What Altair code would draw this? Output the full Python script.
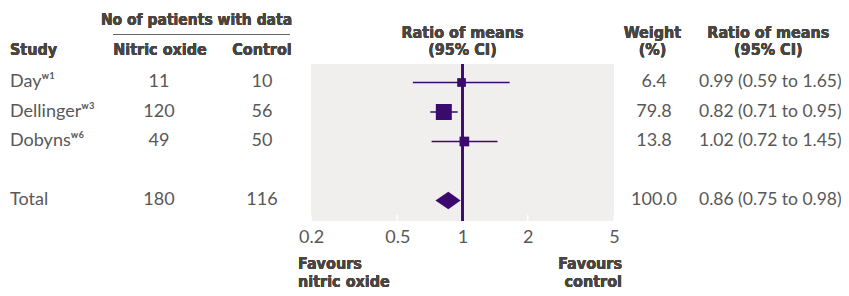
import altair as alt
import pandas as pd

# ---- data ----
studies = ["Day", "Dellinger", "Dobyns", "Total"]
refs = ["ʷ¹", "ʷ³", "ʷ⁶", ""]
rows = [0, 1, 2, 4]
n_nitric = [11, 120, 49, 180]
n_control = [10, 56, 50, 116]
weights = [6.4, 79.8, 13.8, 100.0]
ratio = [0.99, 0.82, 1.02, 0.86]
ci_low = [0.59, 0.71, 0.72, 0.75]
ci_high = [1.65, 0.95, 1.45, 0.98]
x_ticks = [0.2, 0.5, 1, 2, 5]

# ---- styles ----
PURPLE = "#3a0a6c"
PANEL = "#f0efee"
BODY = "#585858"
HEAD = "#4a4541"
BODY_FONT = "Lato"
HEAD_FONT = "'DejaVu Sans Condensed', 'Liberation Sans Narrow', sans-serif"
FS = 18
HFS = 16
W, H = 303, 157

df = pd.DataFrame({
    "study": [s + r for s, r in zip(studies, refs)],
    "row": rows,
    "nitric": n_nitric,
    "control": n_control,
    "weight": weights,
    "ratio": ratio,
    "lo": ci_low,
    "hi": ci_high,
})
df["weight_txt"] = [f"{w:.1f}" for w in weights]
df["ci_txt"] = [f"{r:.2f} ({l:.2f} to {h:.2f})" for r, l, h in zip(ratio, ci_low, ci_high)]
df["total"] = [s == "Total" for s in studies]

trials = df[~df["total"]]
tot = df[df["total"]].iloc[0]
half = 0.3
diamond = pd.DataFrame({
    "x": [tot["lo"], tot["ratio"], tot["hi"]],
    "y": [tot["row"], tot["row"] - half, tot["row"]],
    "y2": [tot["row"], tot["row"] + half, tot["row"]],
})
ticks_df = pd.DataFrame({"t": x_ticks})

xscale = alt.Scale(type="log", domain=[0.2, 5], nice=False)
yscale = alt.Scale(domain=[-0.627, 4.695], reverse=True, nice=False, zero=False)

# white tick marks inside panel bottom + axis labels
tick_layer = alt.Chart(ticks_df).mark_rule(color="white", strokeWidth=1.5).encode(
    x=alt.X("t:Q", scale=xscale, title=None,
            axis=alt.Axis(values=x_ticks, format="~g", domain=False, ticks=False,
                          tickSize=0, grid=False, labelFont=BODY_FONT, labelFontSize=FS,
                          labelColor=BODY, labelPadding=7, labelFlush=False)),
    y=alt.value(H - 6), y2=alt.value(H),
)

ref_line = alt.Chart(ticks_df).mark_rule(color=PURPLE, strokeWidth=2).encode(
    x=alt.datum(1, scale=xscale), y=alt.value(0), y2=alt.value(H)
)

ci = alt.Chart(trials).mark_rule(color=PURPLE, strokeWidth=1.5).encode(
    x=alt.X("lo:Q", scale=xscale), x2="hi:Q",
    y=alt.Y("row:Q", scale=yscale, axis=None),
)

squares = alt.Chart(trials).mark_square(color=PURPLE, opacity=1).encode(
    x=alt.X("ratio:Q", scale=xscale),
    y=alt.Y("row:Q", scale=yscale, axis=None),
    size=alt.Size("weight:Q", scale=alt.Scale(domain=[0, 100], range=[60, 305]), legend=None),
)

dia = alt.Chart(diamond).mark_area(color=PURPLE, orient="vertical", opacity=1).encode(
    x=alt.X("x:Q", scale=xscale),
    y=alt.Y("y:Q", scale=yscale, axis=None),
    y2="y2:Q",
)


def col(field, xpos, align, size=FS):
    return alt.Chart(df).mark_text(
        font=BODY_FONT, fontSize=size, color=BODY, align=align, baseline="middle"
    ).encode(
        x=alt.value(xpos),
        y=alt.Y("row:Q", scale=yscale, axis=None),
        text=f"{field}:N",
    )


cols = [
    col("study", -301, "left"),
    col("nitric", -152, "center"),
    col("control", -49, "center"),
    col("weight_txt", 343, "center"),
    col("ci_txt", 388, "left", 17.5),
]


def head(text, xpos, ypos, align="center", size=HFS):
    return alt.Chart(ticks_df).mark_text(
        text=text, font=HEAD_FONT, fontSize=size, fontWeight="bold", color=HEAD,
        align=align, baseline="alphabetic"
    ).encode(x=alt.value(xpos), y=alt.value(ypos))


heads = [
    head("No of patients with data", -114.5, -39, size=15.5),
    head("Study", -301, -9, "left"),
    head("Nitric oxide", -151, -9),
    head("Control", -49, -9),
    head("Ratio of means", 151.5, -26.5),
    head("(95% CI)", 151.5, -9),
    head("Weight", 341.5, -26.5),
    head("(%)", 341.5, -9),
    head("Ratio of means", 457.3, -26.5),
    head("(95% CI)", 457.3, -9),
    head("Favours", -13, 205, "left"),
    head("nitric oxide", -13, 223, "left"),
    head("Favours", 311, 205, "right"),
    head("control", 311, 223, "right"),
]

underline = alt.Chart(ticks_df).mark_rule(color="#6a6560", strokeWidth=1).encode(
    x=alt.value(-198), x2=alt.value(-21), y=alt.value(-29.5)
)

chart = alt.layer(
    tick_layer, ref_line, ci, squares, dia, *cols, *heads, underline
).properties(
    width=W, height=H,
    autosize=alt.AutoSizeParams(type="none"),
    padding={"left": 303, "top": 56, "right": 227, "bottom": 71},
).configure_view(fill=PANEL, strokeWidth=0)

chart.save("out.html", embed_options={"renderer": "svg", "actions": False})
